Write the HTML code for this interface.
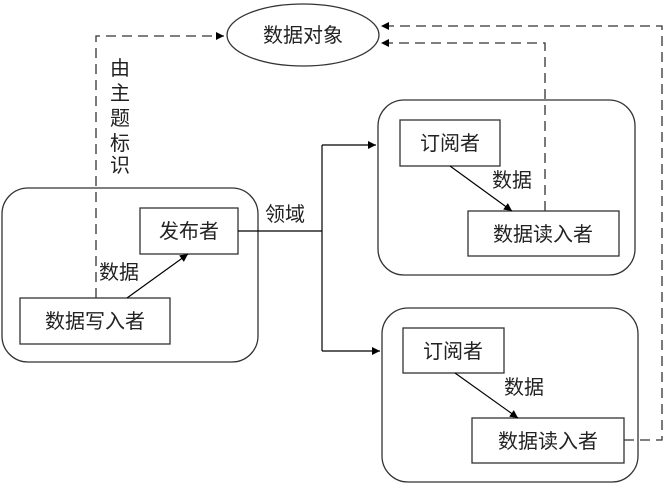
<!DOCTYPE html>
<html><head><meta charset="utf-8"><style>body{margin:0;background:#fff}svg{display:block}text{font-family:"Liberation Sans","Noto Sans CJK SC",sans-serif;font-size:20px;fill:#222}</style></head><body>
<svg width="664" height="484" viewBox="0 0 664 484" xmlns="http://www.w3.org/2000/svg">
<defs><marker id="a" viewBox="0 0 10 10" refX="10" refY="5" markerWidth="10" markerHeight="8" orient="auto" markerUnits="userSpaceOnUse"><path d="M0,0L10,5L0,10z" fill="#000"/></marker></defs>
<g fill="none" stroke="#333" stroke-width="1.3">
<ellipse cx="303" cy="35" rx="76" ry="31"/>
<rect x="2" y="188" width="256" height="174" rx="26"/>
<rect x="378" y="100" width="257" height="175" rx="26"/>
<rect x="382" y="308" width="256" height="174" rx="26"/>
<rect x="140" y="208" width="98" height="46"/>
<rect x="20" y="298" width="150" height="46"/>
<rect x="400" y="120" width="100" height="46"/>
<rect x="468" y="211" width="151" height="45"/>
<rect x="403" y="328" width="101" height="45"/>
<rect x="472" y="418" width="152" height="45"/>
</g>
<g fill="none" stroke="#000" stroke-width="1.2">
<path d="M238,231H322M322,145V351" />
<path d="M322,145H376" marker-end="url(#a)"/>
<path d="M322,351H380" marker-end="url(#a)"/>
<path d="M127,298L188,254" marker-end="url(#a)"/>
<path d="M450,166L512,211" marker-end="url(#a)"/>
<path d="M455,373L518,418" marker-end="url(#a)"/>
</g>
<g fill="none" stroke="#333" stroke-width="1.3" stroke-dasharray="10,6">
<path d="M96,298V36H224" marker-end="url(#a)"/>
<path d="M545,211V43H381" marker-end="url(#a)"/>
<path d="M624,440H662V26H381" marker-end="url(#a)"/>
</g>
<text x="303" y="42" text-anchor="middle">数据对象</text>
<text x="189" y="238" text-anchor="middle">发布者</text>
<text x="95" y="328" text-anchor="middle">数据写入者</text>
<text x="450" y="150" text-anchor="middle">订阅者</text>
<text x="543" y="241" text-anchor="middle">数据读入者</text>
<text x="453" y="358" text-anchor="middle">订阅者</text>
<text x="548" y="448" text-anchor="middle">数据读入者</text>
<text x="99" y="279">数据</text>
<text x="265" y="221">领域</text>
<text x="492" y="187">数据</text>
<text x="504" y="394">数据</text>
<text x="110" y="75">由</text><text x="110" y="100">主</text><text x="110" y="125">题</text><text x="110" y="150">标</text><text x="110" y="172">识</text>
</svg>
</body></html>
